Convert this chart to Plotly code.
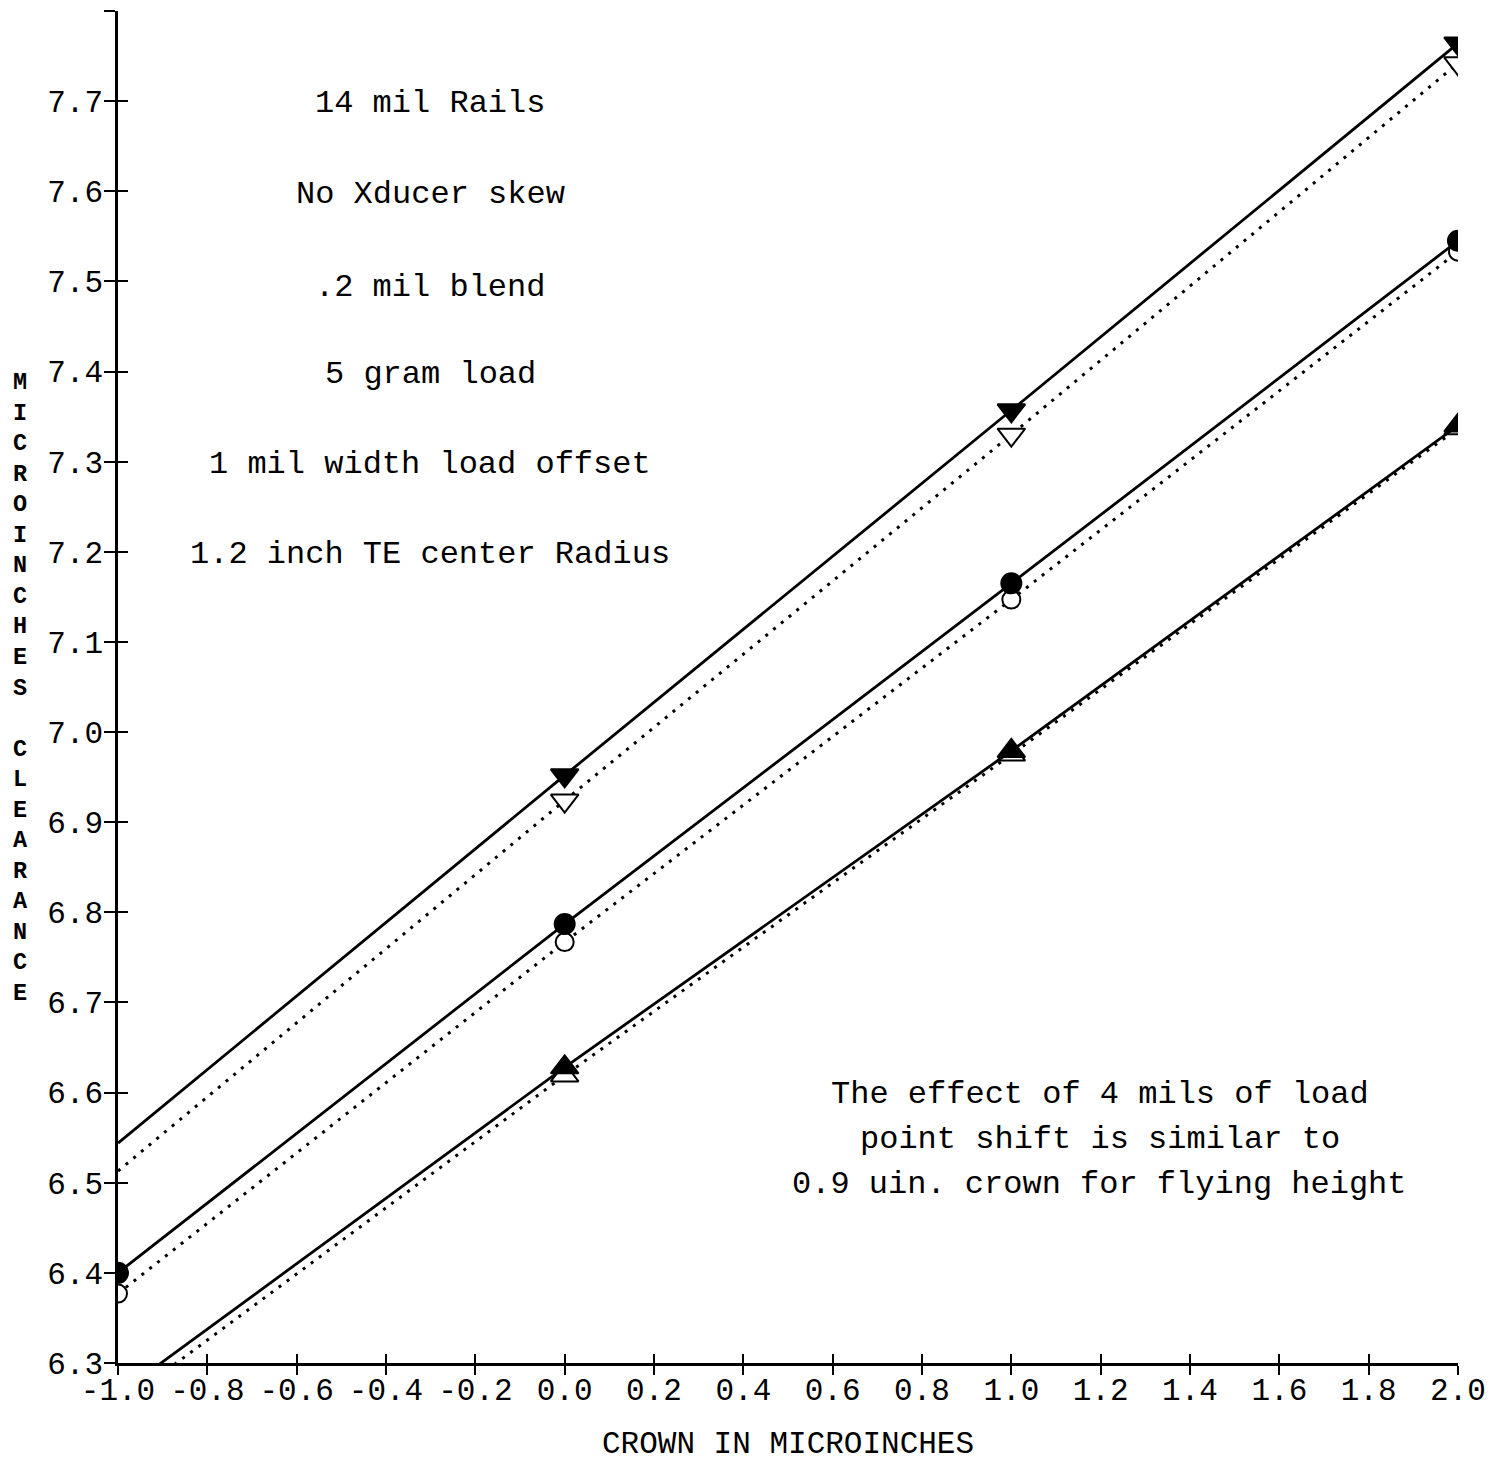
import plotly.graph_objects as go

# ---- data ----
crown = [-1.0, 0.0, 1.0, 2.0]
solid_tri_down = [6.544, 6.952, 7.357, 7.764]
dotted_tri_down = [6.513, 6.924, 7.330, 7.742]
solid_circle = [6.400, 6.787, 7.165, 7.545]
dotted_circle = [6.377, 6.767, 7.147, 7.533]
solid_tri_up = [6.265, 6.628, 6.979, 7.340]
dotted_tri_up = [6.252, 6.619, 6.975, 7.337]

x_ticks = [-1.0, -0.8, -0.6, -0.4, -0.2, 0.0, 0.2, 0.4, 0.6, 0.8, 1.0, 1.2, 1.4, 1.6, 1.8, 2.0]
x_ticktext = ["-1.0", "-0.8", "-0.6", "-0.4", "-0.2", "0.0", "0.2", "0.4", "0.6", "0.8",
              "1.0", "1.2", "1.4", "1.6", "1.8", "2.0"]
y_ticks = [6.3, 6.4, 6.5, 6.6, 6.7, 6.8, 6.9, 7.0, 7.1, 7.2, 7.3, 7.4, 7.5, 7.6, 7.7, 7.8]
y_ticktext = ["6.3", "6.4", "6.5", "6.6", "6.7", "6.8", "6.9", "7.0", "7.1", "7.2",
              "7.3", "7.4", "7.5", "7.6", "7.7", ""]

notes_left = ["14 mil Rails", "No Xducer skew", ".2 mil blend", "5 gram load",
              "1 mil width load offset", "1.2 inch TE center Radius"]
notes_left_y = [7.697, 7.596, 7.493, 7.397, 7.297, 7.197]
notes_right = ["The effect of 4 mils of load", "point shift is similar to",
               "0.9 uin. crown for flying height"]
notes_right_y = [6.598, 6.548, 6.498]
x_title = "CROWN IN MICROINCHES"
y_title = "MICROINCHES CLEARANCE"

FONT = "Courier New, Liberation Mono, monospace"
BLACK = "black"

fig = go.Figure()

def add_series(y, symbol, dotted, size, marker_from=0):
    # line through every point
    fig.add_trace(go.Scatter(
        x=crown, y=y, mode="lines",
        line=dict(color=BLACK, width=3.0 if dotted else 2.8,
                  dash="3px,7px" if dotted else "solid"),
        cliponaxis=True, showlegend=False, hoverinfo="skip",
    ))
    # markers (triangle series have no symbol at the first crown value)
    fig.add_trace(go.Scatter(
        x=crown[marker_from:], y=y[marker_from:], mode="markers",
        marker=dict(symbol=symbol, size=size, color="white" if dotted else BLACK,
                    line=dict(color=BLACK, width=2)),
        cliponaxis=True, showlegend=False, hoverinfo="x+y",
    ))

# open (dotted) series first, filled ones drawn on top
add_series(dotted_tri_down, "triangle-down", True, 24, marker_from=1)
add_series(dotted_circle, "circle", True, 18)
add_series(dotted_tri_up, "triangle-up", True, 24, marker_from=1)
add_series(solid_tri_down, "triangle-down", False, 24, marker_from=1)
add_series(solid_circle, "circle", False, 20)
add_series(solid_tri_up, "triangle-up", False, 24, marker_from=1)

# invisible carrier so the inner tick axes are drawn
fig.add_trace(go.Scatter(x=crown, y=solid_tri_down, xaxis="x2", yaxis="y2", mode="markers",
                         marker=dict(opacity=0), hoverinfo="skip", showlegend=False))

annotations = []
for txt, yy in zip(notes_left, notes_left_y):
    annotations.append(dict(x=-0.301, y=yy, xref="x", yref="y", text=txt, showarrow=False,
                            xanchor="center", yanchor="middle",
                            font=dict(family=FONT, size=32, color=BLACK)))
for txt, yy in zip(notes_right, notes_right_y):
    annotations.append(dict(x=1.198, y=yy, xref="x", yref="y", text=txt, showarrow=False,
                            xanchor="center", yanchor="middle",
                            font=dict(family=FONT, size=32, color=BLACK)))
annotations.append(dict(x=0.5, y=-0.0605, xref="paper", yref="paper", text=x_title,
                        showarrow=False, xanchor="center", yanchor="middle",
                        font=dict(family=FONT, size=31, color=BLACK)))
annotations.append(dict(x=-0.0731, y=0.499, xref="paper", yref="paper",
                        text="<br>".join(("<b>" + ch + "</b>") if ch != " " else "&nbsp;"
                                         for ch in y_title),
                        showarrow=False, xanchor="center", yanchor="middle",
                        font=dict(family=FONT, size=23.5, color=BLACK)))

fig.update_layout(
    width=1501, height=1461,
    margin=dict(l=118, r=43, t=11, b=98),
    paper_bgcolor="white", plot_bgcolor="white",
    font=dict(family=FONT, size=30, color=BLACK),
    annotations=annotations,
    xaxis=dict(range=[-1.0, 2.0], tickvals=x_ticks, ticktext=x_ticktext,
               showgrid=False, zeroline=False, showline=True, linecolor=BLACK, linewidth=2.5,
               ticks="outside", ticklen=9, tickwidth=2, tickcolor=BLACK,
               ticklabelstandoff=-12,
               tickfont=dict(family=FONT, size=31, color=BLACK)),
    yaxis=dict(range=[6.3, 7.8], tickvals=y_ticks, ticktext=y_ticktext,
               showgrid=False, zeroline=False, showline=True, linecolor=BLACK, linewidth=2.5,
               ticks="outside", ticklen=11, tickwidth=2, tickcolor=BLACK,
               ticklabelstandoff=-5,
               tickfont=dict(family=FONT, size=31, color=BLACK)),
    xaxis2=dict(range=[-1.0, 2.0], tickvals=x_ticks, overlaying="x", anchor="y", side="bottom",
                showgrid=False, zeroline=False, showline=False, showticklabels=False,
                ticks="inside", ticklen=9, tickwidth=2, tickcolor=BLACK),
    yaxis2=dict(range=[6.3, 7.8], tickvals=y_ticks, overlaying="y", anchor="x", side="left",
                showgrid=False, zeroline=False, showline=False, showticklabels=False,
                ticks="inside", ticklen=10, tickwidth=2, tickcolor=BLACK),
)

fig.write_html("out.html")
